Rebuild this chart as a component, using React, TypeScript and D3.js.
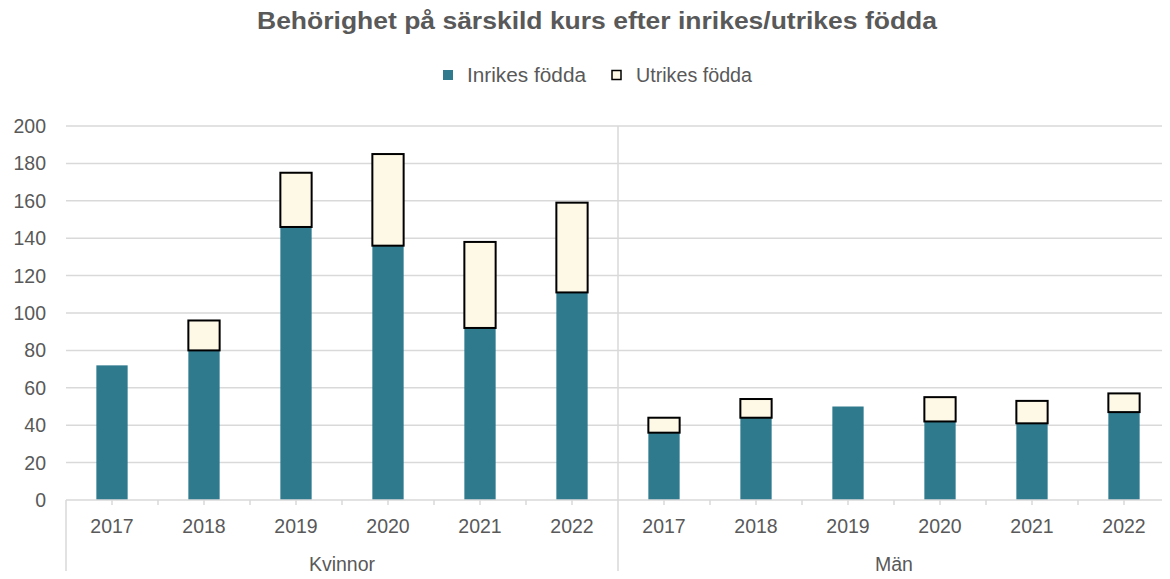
import React from "react";
import * as d3 from "d3";

const groups = ["Kvinnor", "Män"];
const years = ["2017", "2018", "2019", "2020", "2021", "2022"];
const inrikesKvinnor = [72, 80, 146, 136, 92, 111];
const utrikesKvinnor = [0, 16, 29, 49, 46, 48];
const inrikesMan = [36, 44, 50, 42, 41, 47];
const utrikesMan = [8, 10, 0, 13, 12, 10];
const yTicks = [0, 20, 40, 60, 80, 100, 120, 140, 160, 180, 200];

const W = 1170, H = 579;
const left = 66, right = 1170, top = 126, bottom = 500;
const TEAL = "#307a8e";
const CREAM = "#fef8e6";
const TXT = "#595959";
const GRID = "#d9d9d9";
const FONT = "'Liberation Sans', Arial, sans-serif";
const FS = 19.5;

export default function App() {
  const cats = groups.flatMap((g) => years.map((y) => `${g}|${y}`));
  const inrikes = [...inrikesKvinnor, ...inrikesMan];
  const utrikes = [...utrikesKvinnor, ...utrikesMan];
  const x = d3.scaleBand<string>().domain(cats).range([left, right]).paddingInner(0.66).paddingOuter(0.33);
  const y = d3.scaleLinear().domain([0, 200]).range([bottom, top]);
  const step = x.step();
  const groupW = step * years.length;
  const bw = x.bandwidth();

  return (
    <svg width={W} height={H} style={{ display: "block", margin: -8 }} fontFamily={FONT}>
      <text x={257} y={29} fontSize={23} fontWeight="bold" fill={TXT} textLength={680} lengthAdjust="spacingAndGlyphs">
        Behörighet på särskild kurs efter inrikes/utrikes födda
      </text>
      {/* legend */}
      <rect x={443} y={70} width={10} height={10} fill={TEAL} />
      <text x={467} y={82} fontSize={FS} fill={TXT} textLength={119} lengthAdjust="spacingAndGlyphs">Inrikes födda</text>
      <rect x={612} y={70.5} width={9} height={9} fill={CREAM} stroke="#000" strokeWidth={1.5} />
      <text x={636} y={82} fontSize={FS} fill={TXT} textLength={116} lengthAdjust="spacingAndGlyphs">Utrikes födda</text>

      {/* grid */}
      {yTicks.map((t) => (
        <g key={t}>
          {t > 0 && <line x1={left} x2={right} y1={y(t)} y2={y(t)} stroke={GRID} strokeWidth={1.5} />}
          <text x={46} y={y(t) + 7} textAnchor="end" fontSize={FS} fill={TXT}>{t}</text>
        </g>
      ))}
      {/* separator */}
      <line x1={left + groupW} x2={left + groupW} y1={top} y2={H} stroke={GRID} strokeWidth={1.5} />
      <line x1={left} x2={left} y1={bottom} y2={H} stroke={GRID} strokeWidth={1.5} />

      {/* bars */}
      {cats.map((c, i) => {
        const x0 = x(c)!;
        const inr = inrikes[i];
        const utr = utrikes[i];
        return (
          <g key={c}>
            <rect x={x0} y={y(inr)} width={bw} height={y(0) - y(inr)} fill={TEAL} />
            {utr > 0 && (
              <rect x={x0} y={y(inr + utr)} width={bw} height={y(inr) - y(inr + utr)} fill={CREAM} stroke="#000" strokeWidth={2} />
            )}
          </g>
        );
      })}

      {/* x axis */}
      <line x1={left} x2={right} y1={bottom} y2={bottom} stroke={GRID} strokeWidth={1.5} />
      {cats.map((c, i) => {
        const cx = x(c)! + bw / 2;
        const bx = left + step * i;
        return (
          <g key={"t" + c}>
            <line x1={cx} x2={cx} y1={bottom} y2={bottom + 5} stroke={GRID} strokeWidth={1.5} />
            {i % years.length !== 0 && <line x1={bx} x2={bx} y1={bottom} y2={bottom + 5} stroke={GRID} strokeWidth={1.5} />}
            <text x={cx} y={533} textAnchor="middle" fontSize={FS} fill={TXT}>{years[i % years.length]}</text>
          </g>
        );
      })}
      {groups.map((g, gi) => (
        <text key={g} x={left + groupW * gi + groupW / 2} y={571} textAnchor="middle" fontSize={FS} fill={TXT}>{g}</text>
      ))}
    </svg>
  );
}
